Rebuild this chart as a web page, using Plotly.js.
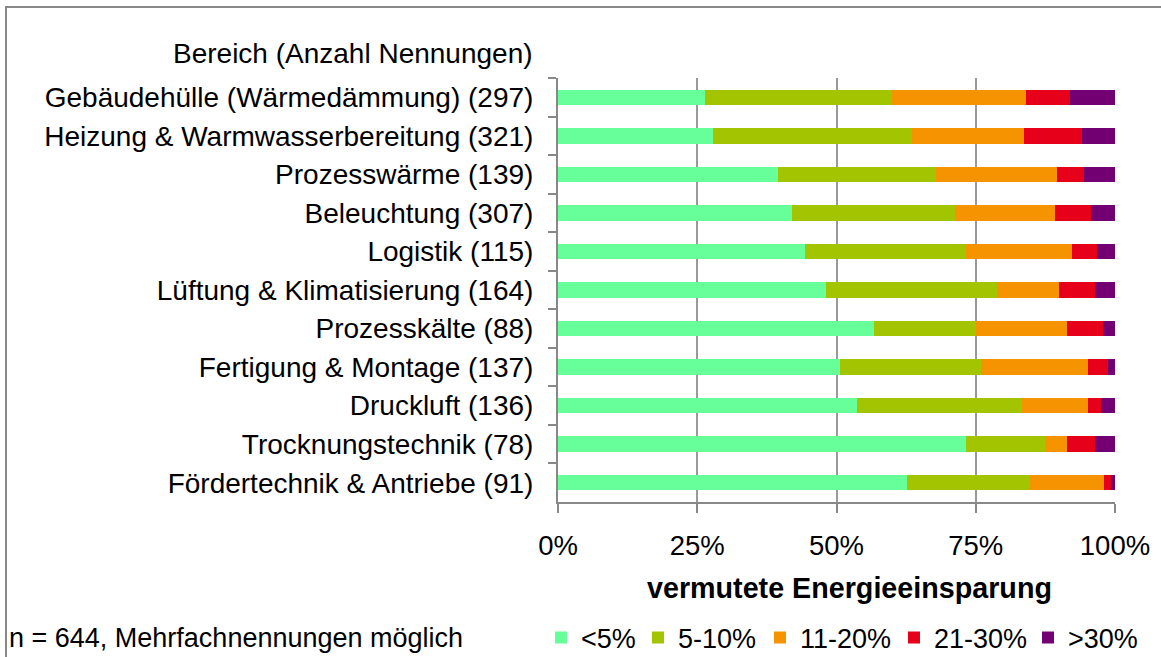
<!DOCTYPE html>
<html>
<head>
<meta charset="utf-8">
<script src="https://cdn.plot.ly/plotly-3.0.1.min.js"></script>
<style>
  html, body { margin: 0; padding: 0; background: #ffffff; }
  #chart { width: 1161px; height: 657px; }
</style>
</head>
<body>
<div id="chart"></div>
<script>
// Bereiche (oben nach unten)
const bereiche = [
  "Gebäudehülle (Wärmedämmung) (297)",
  "Heizung &amp; Warmwasserbereitung (321)",
  "Prozesswärme (139)",
  "Beleuchtung (307)",
  "Logistik (115)",
  "Lüftung &amp; Klimatisierung (164)",
  "Prozesskälte (88)",
  "Fertigung &amp; Montage (137)",
  "Druckluft (136)",
  "Trocknungstechnik (78)",
  "Fördertechnik &amp; Antriebe (91)"
]

// Anteile in Prozent je Klasse
const unter5 = [26.4, 27.8, 39.5, 42.0, 44.4, 48.1, 56.8, 50.6, 53.7, 73.3, 62.7]
const p5bis10 = [33.5, 35.8, 28.3, 29.2, 28.9, 30.7, 18.3, 25.4, 29.6, 14.2, 22.0]
const p11bis20 = [24.2, 20.1, 21.8, 18.0, 19.0, 11.1, 16.2, 19.1, 11.8, 3.8, 13.4]
const p21bis30 = [7.9, 10.3, 4.8, 6.5, 4.5, 6.5, 6.5, 3.7, 2.4, 5.1, 1.1]
const ueber30 = [8.0, 6.0, 5.6, 4.3, 3.2, 3.6, 2.2, 1.2, 2.5, 3.6, 0.8]

const klassen = ["&lt;5%", "5-10%", "11-20%", "21-30%", "&gt;30%"]
const farben = ["#66FF99", "#A3C400", "#F59300", "#E6001A", "#720072"]
const werte = [unter5, p5bis10, p11bis20, p21bis30, ueber30]

const xTicks = [0, 25, 50, 75, 100]
const xTickText = ["0%", "25%", "50%", "75%", "100%"]

const schrift = "Liberation Sans, Arial, sans-serif"

// Plotbereich in Pixeln (fuer Umrechnung der Positionen)
const plotL = 558, plotR = 1115, plotT = 78, plotB = 502
const pxX = px => (px - plotL) / (plotR - plotL)
const pxY = py => (plotB - py) / (plotB - plotT)

// Textanfang der Legendeneintraege im Original
const legendTextX = [578, 675, 797, 931, 1065]
const legendNamen = ["legend", "legend2", "legend3", "legend4", "legend5"]

const traces = klassen.map((name, i) => ({
  type: "bar",
  orientation: "h",
  name: name,
  x: werte[i],
  y: bereiche,
  legend: legendNamen[i],
  marker: { color: farben[i], line: { width: 0 } },
  hoverinfo: "x+y+name",
}))

const layout = {
  width: 1161,
  height: 657,
  barmode: "stack",
  bargap: 0.6,
  paper_bgcolor: "#ffffff",
  plot_bgcolor: "#ffffff",
  font: { family: schrift, size: 28, color: "#000000" },
  margin: { l: plotL, r: 1161 - plotR, t: plotT, b: 657 - plotB, autoexpand: false },
  xaxis: {
    range: [0, 100],
    tickvals: xTicks,
    ticktext: xTickText,
    showgrid: true,
    gridcolor: "#999999",
    gridwidth: 2,
    zeroline: false,
    showline: true,
    linecolor: "#888888",
    linewidth: 2,
    ticks: "outside",
    ticklen: 9,
    tickwidth: 2,
    tickcolor: "#888888",
    ticklabelstandoff: 9,
    tickfont: { family: schrift, size: 27.5 },
    fixedrange: true,
  },
  yaxis: {
    type: "category",
    categoryorder: "array",
    categoryarray: bereiche,
    autorange: "reversed",
    showline: true,
    linecolor: "#888888",
    linewidth: 2,
    ticks: "outside",
    tickson: "boundaries",
    ticklen: 8,
    tickwidth: 2,
    tickcolor: "#888888",
    ticklabelstandoff: 17,
    showgrid: false,
    tickfont: { family: schrift, size: 28 },
    fixedrange: true,
  },
  showlegend: true,
  annotations: [
    {
      text: "Bereich (Anzahl Nennungen)",
      xref: "paper", yref: "paper",
      x: pxX(535), y: pxY(53),
      xanchor: "right", yanchor: "middle",
      showarrow: false,
      font: { family: schrift, size: 28 },
    },
    {
      text: "<b>vermutete Energieeinsparung</b>",
      xref: "paper", yref: "paper",
      x: pxX(849), y: pxY(588),
      xanchor: "center", yanchor: "middle",
      showarrow: false,
      font: { family: schrift, size: 28.7 },
    },
    {
      text: "n = 644, Mehrfachnennungen möglich",
      xref: "paper", yref: "paper",
      x: pxX(7), y: pxY(638),
      xanchor: "left", yanchor: "middle",
      showarrow: false,
      font: { family: schrift, size: 27 },
    },
  ],
  shapes: [
    {
      type: "rect",
      xref: "paper", yref: "paper",
      x0: pxX(6), x1: pxX(1180),
      y0: pxY(700), y1: pxY(7),
      line: { color: "#888888", width: 2 },
      fillcolor: "rgba(0,0,0,0)",
      layer: "below",
    },
  ],
}

// eine Legende je Klasse, damit die Abstaende wie im Original sind
legendNamen.forEach((ln, i) => {
  layout[ln] = {
    orientation: "h",
    x: pxX(legendTextX[i] - 37),
    xanchor: "left",
    y: pxY(638),
    yanchor: "middle",
    font: { family: schrift, size: 27 },
    bgcolor: "rgba(0,0,0,0)",
    borderwidth: 0,
  }
})

Plotly.newPlot("chart", traces, layout, { displayModeBar: false, responsive: false })
</script>
</body>
</html>
